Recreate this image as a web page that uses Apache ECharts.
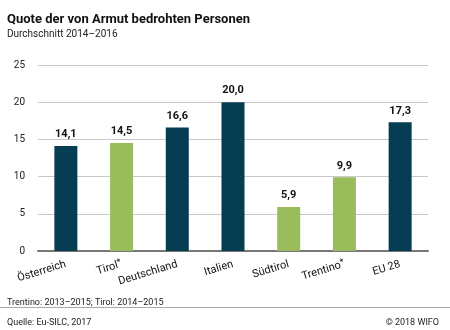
<!DOCTYPE html>
<html><head><meta charset="utf-8">
<script src="https://cdn.jsdelivr.net/npm/echarts@6/dist/echarts.min.js"></script>
<style>html,body{margin:0;padding:0;background:#fff}#c{width:450px;height:330px}</style>
</head><body><div id="c"></div>
<script>
const categories = ['Österreich','Tirol*','Deutschland','Italien','Südtirol','Trentino*','EU 28'];
const values = [14.1, 14.5, 16.6, 20.0, 5.9, 9.9, 17.3];
const isRegion = [false, true, false, false, true, true, false];
const yTicks = [0, 5, 10, 15, 20, 25];
const DARK = '#073d52', GREEN = '#9bbc5a';
const FONT = 'Roboto';
const chart = echarts.init(document.getElementById('c'));
chart.setOption({
  animation: false,
  textStyle: { fontFamily: FONT },
  grid: { left: 38, right: 22, top: 65, bottom: 79, containLabel: false },
  title: [
    { text: 'Quote der von Armut bedrohten Personen', left: 2, top: 8,
      textStyle: { fontFamily: FONT, fontSize: 13, fontWeight: 'bold', color: '#111' } },
    { text: 'Durchschnitt 2014–2016', left: 2, top: 24,
      textStyle: { fontFamily: FONT, fontSize: 10, fontWeight: 'normal', color: '#222' } },
    { text: 'Trentino: 2013–2015; Tirol: 2014–2015', left: 2, top: 293,
      textStyle: { fontFamily: FONT, fontSize: 9, fontWeight: 'normal', color: '#222' } },
    { text: 'Quelle: Eu-SILC, 2017', left: 2, top: 313,
      textStyle: { fontFamily: FONT, fontSize: 9, fontWeight: 'normal', color: '#222' } },
    { text: '© 2018 WIFO', right: 6, top: 313,
      textStyle: { fontFamily: FONT, fontSize: 9, fontWeight: 'normal', color: '#222' } }
  ],
  graphic: [{ type: 'line', shape: { x1: 0, y1: 307.5, x2: 450, y2: 307.5 }, style: { stroke: '#aaa', lineWidth: 1 } }],
  xAxis: {
    type: 'category', data: categories,
    axisLine: { show: true, lineStyle: { color: '#777', width: 2 } },
    axisTick: { show: false },
    axisLabel: { interval: 0, rotate: 17, margin: 13, fontSize: 11, color: '#111', fontFamily: FONT,
      formatter: v => v.endsWith('*') ? v.slice(0, -1) + '{sup|*}' : v,
      rich: { sup: { fontSize: 9, color: '#111', fontFamily: FONT, verticalAlign: 'top', padding: [0, 0, 5, 0] } } }
  },
  yAxis: {
    type: 'value', min: 0, max: 25, interval: 5,
    axisLine: { show: false }, axisTick: { show: false },
    axisLabel: { fontSize: 10, color: '#222', margin: 13, fontFamily: FONT,
      formatter: v => yTicks.includes(v) ? String(v) : '' },
    splitLine: { lineStyle: { color: '#c8c8c8', width: 1 } }
  },
  series: [{
    type: 'bar', barWidth: 23,
    data: values.map((v, i) => ({ value: v, itemStyle: { color: isRegion[i] ? GREEN : DARK } })),
    label: { show: true, position: 'top', distance: 6, fontSize: 11, fontWeight: 'bold', color: '#111',
      fontFamily: FONT, formatter: p => p.value.toFixed(1).replace('.', ',') }
  }]
});
</script></body></html>
